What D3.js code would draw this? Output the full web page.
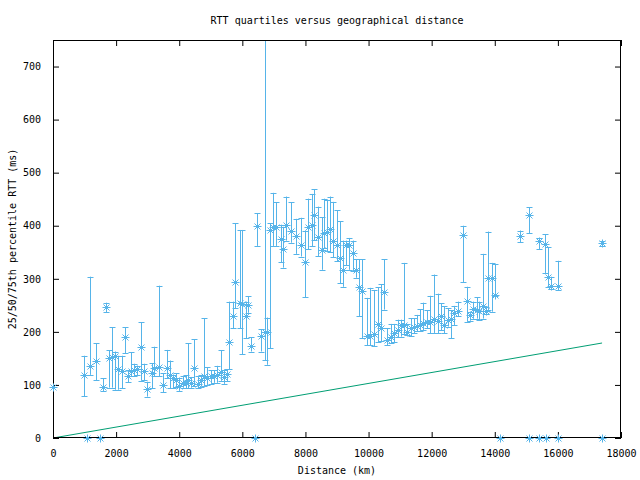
<!DOCTYPE html>
<html><head><meta charset="utf-8">
<script src="https://cdn.jsdelivr.net/npm/d3@7"></script>
<style>body{margin:0;background:#fff}svg{display:block}text{font-family:"DejaVu Sans Mono",monospace;font-size:10px;fill:#000}</style>
</head><body>
<script>
const distance = [0,992,1172,1363,1595,1680,1775,1870,1965,2070,2196,2282,2386,2472,2577,2662,2789,2884,2989,3127,3211,3369,3497,3602,3708,3813,3898,4003,4109,4215,4288,4373,4478,4584,4690,4795,4890,4998,5102,5207,5310,5420,5500,5588,5693,5778,5926,6000,6106,6190,6285,6475,6590,6734,6791,6877,6982,7067,7215,7298,7384,7532,7690,7849,7986,8091,8197,8281,8387,8514,8598,8693,8778,8883,9010,9095,9200,9285,9390,9497,9602,9700,9790,9940,10046,10172,10310,10394,10500,10594,10700,10806,10923,11028,11123,11228,11335,11450,11545,11630,11735,11842,11947,12083,12190,12295,12390,12507,12602,12708,12844,13003,13110,13215,13320,13425,13510,13616,13722,13795,13902,14007,14799,15094,15410,15591,15696,15782,16013,17407,1090,1480,6408,14181,15090,15392,15611,16004,17391];
const median = [97,119,136,145,96,246,151,153,155,130,126,191,116,127,128,130,171,126,92,122,132,133,99,132,119,113,109,98,104,103,109,103,132,101,109,116,113,116,117,119,125,115,120,181,230,294,254,252,230,250,174,400,193,200,200,392,397,397,375,356,402,390,381,364,331,397,402,421,379,355,386,388,394,372,364,340,317,364,364,348,317,285,277,192,192,196,215,208,275,185,191,198,204,212,213,199,208,210,211,213,216,218,218,224,221,229,213,223,224,235,240,383,259,232,243,241,240,249,240,301,302,270,381,421,372,366,304,287,287,367,0,0,0,0,0,0,0,0,0];
const q25 = [97,79,119,109,89,237,95,95,91,91,94,160,105,116,116,118,108,109,78,94,116,116,86,113,94,94,97,89,95,94,94,95,98,95,97,98,100,102,104,104,108,102,107,130,207,245,207,158,188,236,163,362,163,147,138,169,362,362,331,321,372,368,347,342,265,356,361,373,343,317,358,352,350,341,333,292,285,326,317,314,302,230,188,175,175,173,180,182,242,175,179,180,190,191,196,195,192,197,201,202,203,207,197,198,197,203,197,210,188,213,229,294,219,221,225,225,223,225,233,241,238,267,369,386,356,311,284,281,279,362,0,0,0,0,0,0,0,0,0];
const q75 = [97,155,304,179,113,255,165,209,163,155,155,209,128,162,140,135,218,140,106,141,172,287,122,166,146,119,122,113,117,118,179,115,186,116,119,226,133,128,128,136,165,128,130,257,257,405,392,392,257,267,190,424,205,800,227,405,462,444,402,398,455,444,413,415,391,451,460,469,436,416,451,449,455,445,429,408,372,372,377,372,337,337,337,264,283,279,284,290,337,207,215,215,223,223,330,215,226,226,232,243,255,241,268,308,272,254,248,245,241,249,257,400,285,237,257,265,257,347,247,389,330,328,391,435,377,384,360,304,334,372,0,0,0,0,0,0,0,0,0];
const boundDist = [0,17400];
const boundRtt = [0,179];
const xTicks = [0,2000,4000,6000,8000,10000,12000,14000,16000,18000];
const yTicks = [0,100,200,300,400,500,600,700];

const W=640,H=480,L=53,R=621,T=40,B=438;
const svg=d3.select("body").append("svg").attr("width",W).attr("height",H);
const x=d3.scaleLinear().domain([0,18000]).range([L,R]);
const y=d3.scaleLinear().domain([0,750]).range([B,T]);
const blue="#56b4e9", green="#009e73";

svg.append("defs").append("clipPath").attr("id","clip").append("rect")
  .attr("x",L).attr("y",T).attr("width",R-L).attr("height",B-T);

const ax=(g)=>g.selectAll(".domain").remove();
svg.append("g").attr("transform",`translate(0,${B})`)
  .call(d3.axisBottom(x).tickValues(xTicks).tickSize(-6).tickPadding(12).tickFormat(d3.format("d"))).call(ax);
svg.append("g").attr("transform",`translate(0,${T})`)
  .call(d3.axisTop(x).tickValues(xTicks).tickSize(-6).tickFormat("")).call(ax);
svg.append("g").attr("transform",`translate(${L},0)`)
  .call(d3.axisLeft(y).tickValues(yTicks).tickSize(-6).tickPadding(12)).call(ax);
svg.append("g").attr("transform",`translate(${R},0)`)
  .call(d3.axisRight(y).tickValues(yTicks).tickSize(-6).tickFormat("")).call(ax);
svg.selectAll(".tick text").attr("font-family","DejaVu Sans Mono").attr("font-size",10).attr("fill","#000");
svg.selectAll(".tick line").attr("stroke","#000");

const plot=svg.append("g").attr("clip-path","url(#clip)");
const pts=distance.map((d,i)=>({d,m:median[i],lo:q25[i],hi:q75[i]}));

plot.append("path").datum(boundDist.map((d,i)=>[d,boundRtt[i]]))
  .attr("d",d3.line().x(p=>x(p[0])).y(p=>y(p[1])))
  .attr("fill","none").attr("stroke",green).attr("stroke-width",1);

const eb=plot.append("g").attr("stroke",blue).attr("stroke-width",1).attr("fill","none");
pts.filter(p=>p.hi>p.lo).forEach(p=>{
  const cx=Math.round(x(p.d))+0.5;
  eb.append("path").attr("d",`M${cx},${y(p.lo)}V${y(p.hi)}M${cx-3},${Math.round(y(p.lo))+0.5}H${cx+3}M${cx-3},${Math.round(y(p.hi))+0.5}H${cx+3}`);
});

// frame
svg.append("rect").attr("x",L+0.5).attr("y",T+0.5).attr("width",R-L-1).attr("height",B-T-1)
  .attr("fill","none").attr("stroke","#000").attr("stroke-width",1);

// asterisk markers (drawn fully when centre lies in range, like gnuplot)
const mk=svg.append("g").attr("stroke",blue).attr("stroke-width",1).attr("fill","none");
pts.forEach(p=>{
  const cx=Math.round(x(p.d))+0.5, cy=Math.round(y(p.m))+0.5, s=4, t=3;
  mk.append("path").attr("d",`M${cx-s},${cy}H${cx+s}M${cx},${cy-s}V${cy+s}M${cx-t},${cy-t}L${cx+t},${cy+t}M${cx-t},${cy+t}L${cx+t},${cy-t}`);
});

svg.append("text").attr("x",337).attr("y",24).attr("text-anchor","middle").text("RTT quartiles versus geographical distance");
svg.append("text").attr("x",337).attr("y",474).attr("text-anchor","middle").text("Distance (km)");
svg.append("text").attr("transform","translate(16,239) rotate(-90)").attr("text-anchor","middle").text("25/50/75th percentile RTT (ms)");
</script>
</body></html>
